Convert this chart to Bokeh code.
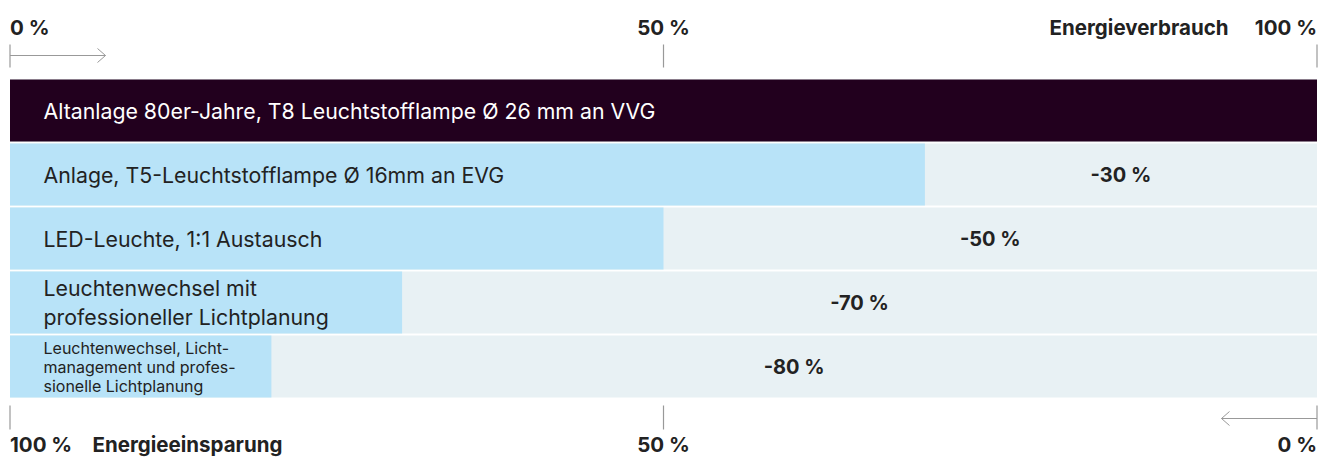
from bokeh.plotting import figure
from bokeh.models import Range1d, ColumnDataSource
from bokeh.core.properties import value
from bokeh.embed import file_html
from bokeh.resources import INLINE

# ---- data ----
labels = [
    "Altanlage 80er-Jahre, T8 Leuchtstofflampe Ø 26 mm an VVG",
    "Anlage, T5-Leuchtstofflampe Ø 16mm an EVG",
    "LED-Leuchte, 1:1 Austausch",
    "Leuchtenwechsel mit\nprofessioneller Lichtplanung",
    "Leuchtenwechsel, Licht-\nmanagement und profes-\nsionelle Lichtplanung",
]
consumption = [100, 70, 50, 30, 20]
savings = [0, -30, -50, -70, -80]
top_ticks = [0, 50, 100]
top_tick_labels = ["0 %", "50 %", "100 %"]
bottom_tick_labels = ["100 %", "50 %", "0 %"]

# ---- styles ----
DARK = "#22001E"
BLUE = "#B8E3F8"
TRACK = "#E8F1F4"
TXT = "#222222"
GRID = "#999999"
FONT = value("Inter")

W, H = 1319, 458
OX, OY = 0, 0  # canvas origin in page pixels
# pixel mapping (page coords): x 0% -> 9.5, 100% -> 1316.5 ; row r center -> 110 + 64 r
SX = 13.07
X0 = 9.5
PITCH = 64.0
Y0 = 110.0


def ry(page_y):
    return (page_y - Y0) / PITCH


def rx(page_x):
    return (page_x - X0) / SX


p = figure(width=W, height=H, output_backend="svg", toolbar_location=None,
           x_range=Range1d(rx(OX), rx(OX + W)),
           y_range=Range1d(ry(OY + H), ry(OY)),
           min_border=0, border_fill_color="white", background_fill_color="white",
           outline_line_color=None)
p.axis.visible = False
p.grid.visible = False

rows = list(range(len(labels)))
src = ColumnDataSource(dict(
    y=rows,
    val=consumption,
    sav=[("%d %%" % s) if s else "" for s in savings],
    mid=[(v + 100) / 2 for v in consumption],
    lab=labels,
    fill=[DARK] + [BLUE] * (len(labels) - 1),
    tcol=["white"] + [TXT] * (len(labels) - 1),
))

bh = 62 / PITCH
p.hbar(y=rows, left=0, right=100, height=bh, fill_color=TRACK, line_color=None)
p.hbar(y="y", left=0, right="val", height=bh, fill_color="fill", line_color=None, source=src)

# bar labels
big = ColumnDataSource(dict(y=rows[:4], lab=labels[:4], tcol=src.data["tcol"][:4]))
p.text(x=rx(43), y="y", text="lab", source=big, text_font=FONT, text_font_size="21.3px",
       text_color="tcol", text_baseline="middle", text_align="left", text_line_height=1.15)
p.text(x=[rx(43)], y=[4], text=[labels[4]], text_font=FONT, text_font_size="16px",
       text_color=TXT, text_baseline="middle", text_align="left", text_line_height=0.95)

# savings labels
p.text(x="mid", y="y", text="sav", source=src, text_font=FONT, text_font_size="20px",
       text_font_style="bold", text_color=TXT, text_baseline="middle", text_align="center")

# top scale
p.segment(x0=top_ticks, x1=top_ticks, y0=[ry(44)] * 3, y1=[ry(67)] * 3, line_color=GRID, line_width=1.2)
p.text(x=top_ticks, y=[ry(27)] * 3, text=top_tick_labels, text_font=FONT, text_font_size="20.5px",
       text_font_style="bold", text_color=TXT, text_baseline="middle",
       text_align=["left", "center", "right"])
p.text(x=[rx(1228)], y=[ry(27)], text=["Energieverbrauch"], text_font=FONT, text_font_size="20.5px",
       text_font_style="bold", text_color=TXT, text_baseline="middle", text_align="right")
# top arrow
p.segment(x0=[0], x1=[rx(105)], y0=[ry(55)], y1=[ry(55)], line_color=GRID, line_width=1)
p.line(x=[rx(97), rx(105), rx(97)], y=[ry(48), ry(55), ry(62)], line_color=GRID, line_width=1)

# bottom scale
p.segment(x0=top_ticks, x1=top_ticks, y0=[ry(405)] * 3, y1=[ry(429)] * 3, line_color=GRID, line_width=1.2)
p.text(x=top_ticks, y=[ry(444)] * 3, text=bottom_tick_labels, text_font=FONT, text_font_size="20.5px",
       text_font_style="bold", text_color=TXT, text_baseline="middle",
       text_align=["left", "center", "right"])
p.text(x=[rx(92)], y=[ry(444)], text=["Energieeinsparung"], text_font=FONT, text_font_size="20.5px",
       text_font_style="bold", text_color=TXT, text_baseline="middle", text_align="left")
# bottom arrow
p.segment(x0=[100], x1=[rx(1221)], y0=[ry(418)], y1=[ry(418)], line_color=GRID, line_width=1)
p.line(x=[rx(1229), rx(1221), rx(1229)], y=[ry(411), ry(418), ry(425)], line_color=GRID, line_width=1)

open("out.html", "w").write(file_html(p, INLINE))
